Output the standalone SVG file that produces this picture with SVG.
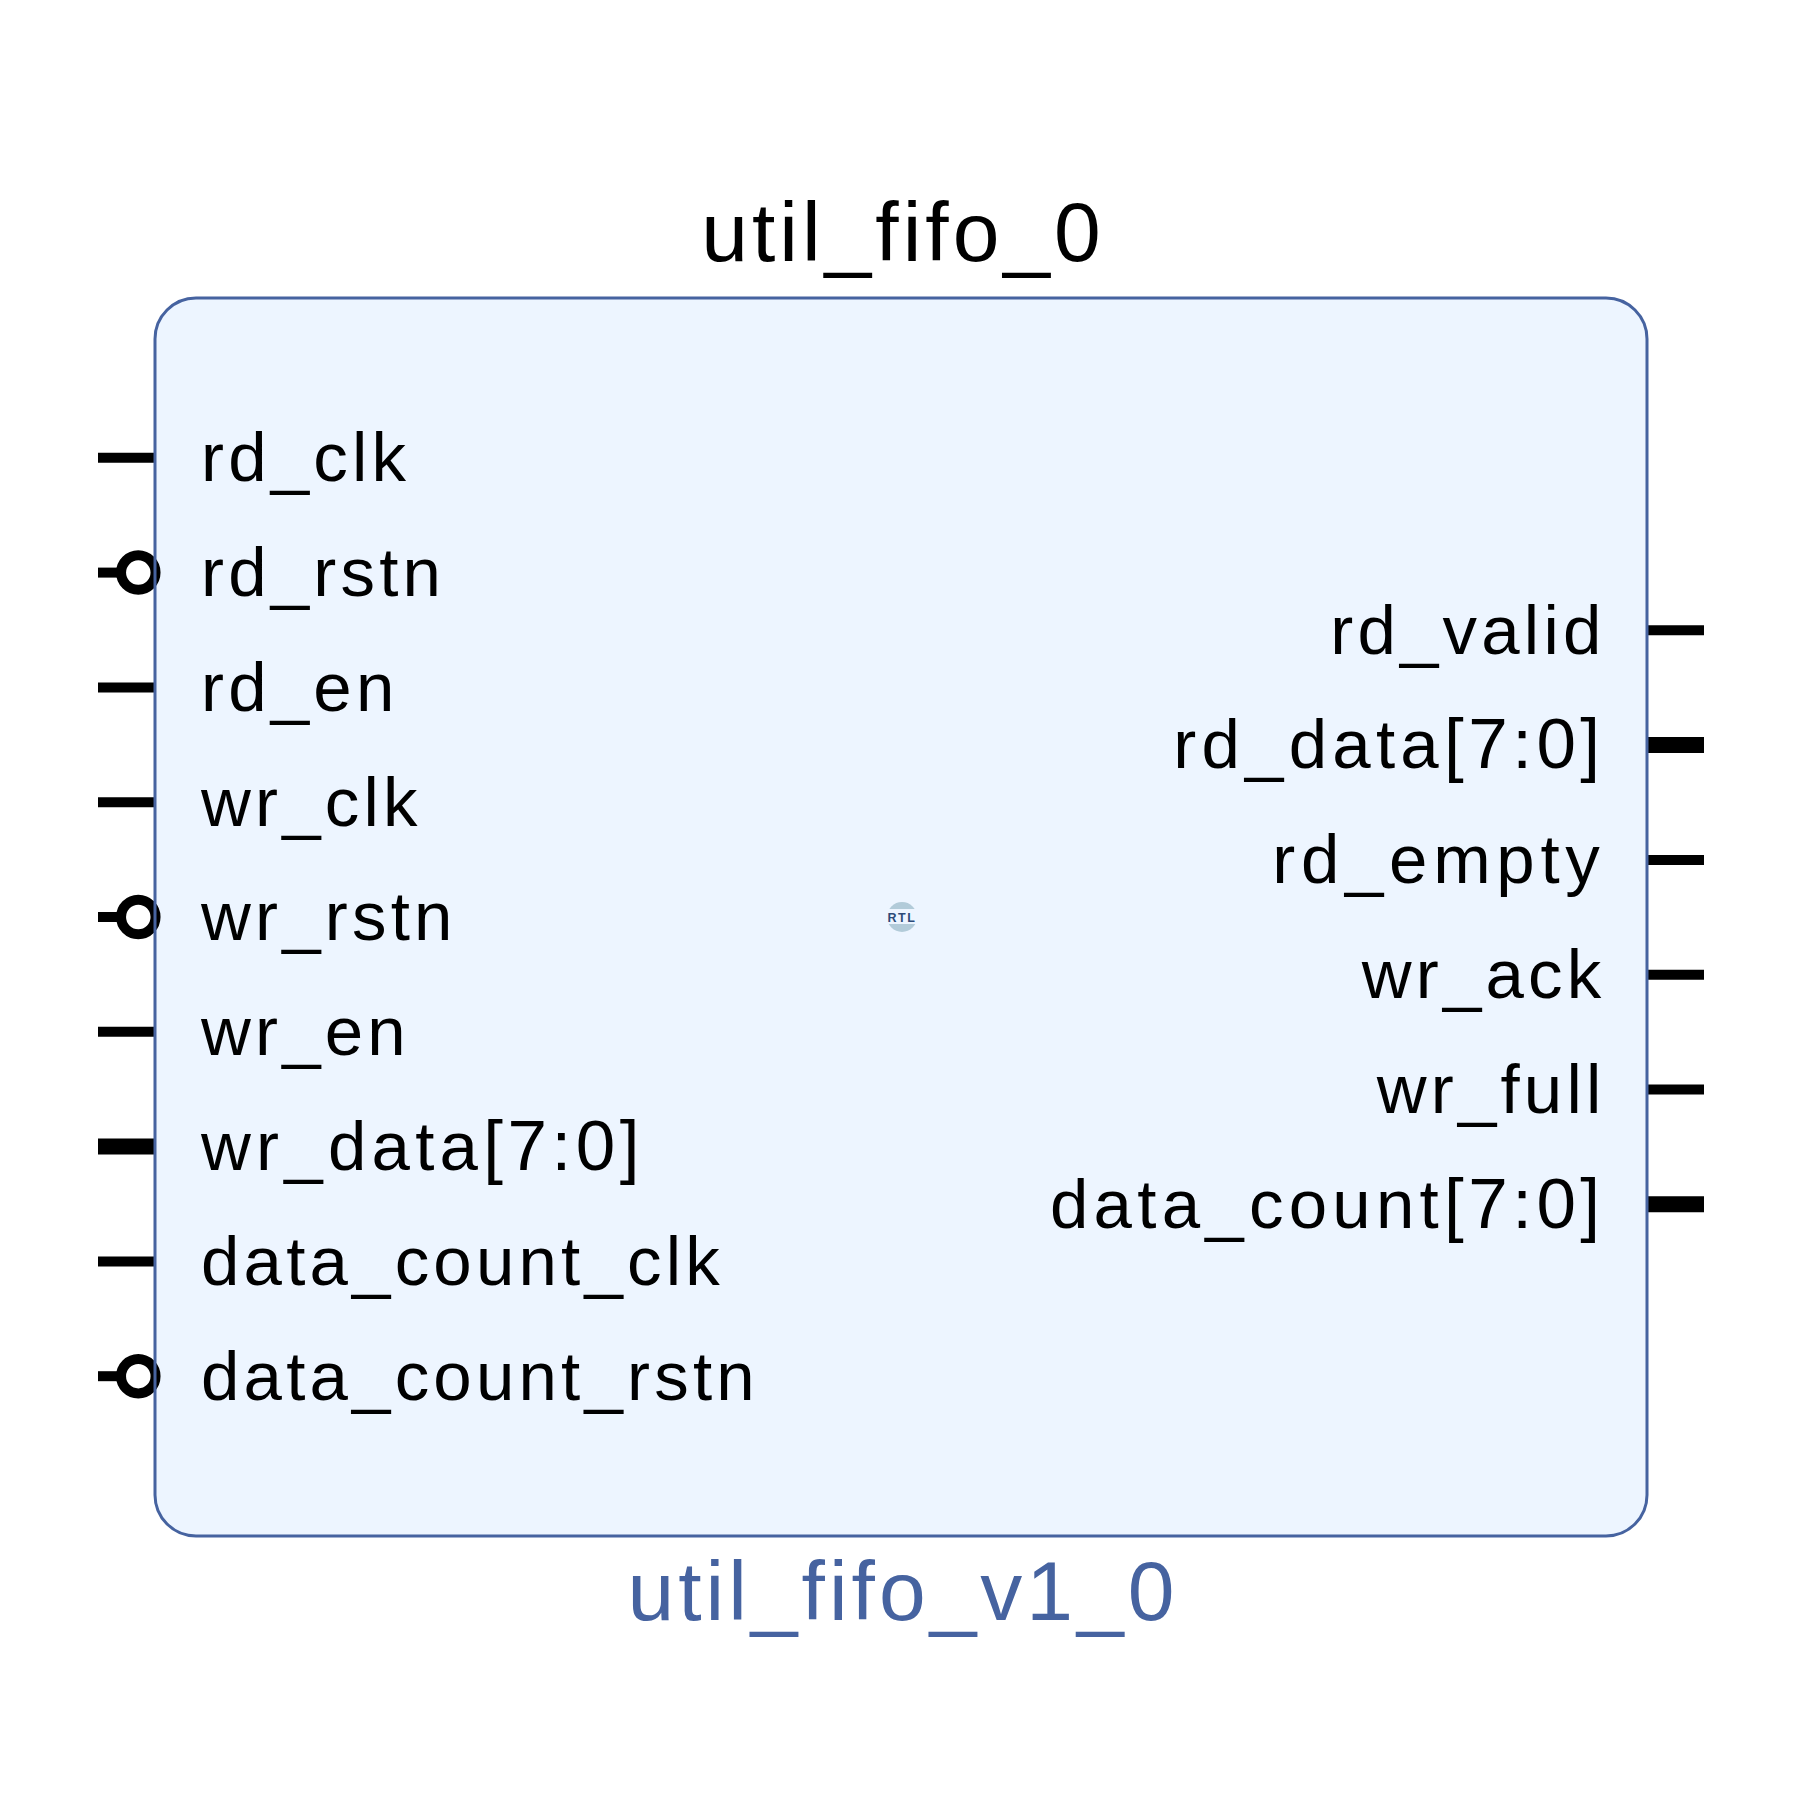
<svg xmlns="http://www.w3.org/2000/svg" width="1799" height="1801" viewBox="0 0 1799 1801">
<style>
text{font-family:"Liberation Sans",Arial,sans-serif;font-size:69px;letter-spacing:4.2px;fill:#000}
.r{text-anchor:end}
.d{letter-spacing:5.25px}
.x{font-size:71px;letter-spacing:4.5px}
.t{font-size:84px;text-anchor:middle;letter-spacing:4px}
.p{stroke:#000;stroke-width:10;fill:none}
.b{stroke:#000;stroke-width:16;fill:none}
.c{stroke:#000;stroke-width:10;fill:#fff}
</style>
<rect width="1799" height="1801" fill="#fff"/>
<g id="block">
<rect x="155" y="298" width="1492" height="1238" rx="41" ry="41" fill="#edf5ff"/>
</g>
<g id="connectors">
<path class="p" d="M98 457.800H155"/>
<path class="p" d="M98 572.600H125"/>
<path class="p" d="M98 687.400H155"/>
<path class="p" d="M98 802.200H155"/>
<path class="p" d="M98 917H125"/>
<path class="p" d="M98 1031.800H155"/>
<path class="b" d="M98 1146.600H155"/>
<path class="p" d="M98 1261.400H155"/>
<path class="p" d="M98 1376.200H125"/>
<path class="p" d="M1647 630.300H1704"/>
<path class="b" d="M1647 745.100H1704"/>
<path class="p" d="M1647 859.900H1704"/>
<path class="p" d="M1647 974.700H1704"/>
<path class="p" d="M1647 1089.500H1704"/>
<path class="b" d="M1647 1204.300H1704"/>
<circle class="c" cx="138.300" cy="572.600" r="17.250"/>
<circle class="c" cx="138.300" cy="917" r="17.250"/>
<circle class="c" cx="138.300" cy="1376.200" r="17.250"/>
</g>
<g id="block-outline">
<rect x="155" y="298" width="1492" height="1238" rx="41" ry="41" fill="none" stroke="#4663a0" stroke-width="3"/>
</g>
<g id="labels">
<text class="t" x="903" y="260.500">util_fifo_0</text>
<text class="t" x="903" y="1620" style="fill:#4663a0">util_fifo_v1_0</text>
<text x="201" y="481">rd_clk</text>
<text x="201" y="596">rd_rstn</text>
<text x="201" y="710.700">rd_en</text>
<text x="201" y="825.500">wr_clk</text>
<text x="201" y="940.300">wr_rstn</text>
<text x="201" y="1055.100">wr_en</text>
<text class="d" x="201" y="1169.900">wr_data<tspan class="x">[7:0]</tspan></text>
<text x="201" y="1284.700">data_count_clk</text>
<text x="201" y="1399.500">data_count_rstn</text>
<text class="r" x="1605.500" y="653.600">rd_valid</text>
<text class="r d" x="1604.600" y="768.400">rd_data<tspan class="x">[7:0]</tspan></text>
<text class="r" x="1605.500" y="883.200" style="letter-spacing:5.700px">rd_empty</text>
<text class="r" x="1605.500" y="998">wr_ack</text>
<text class="r" x="1605.500" y="1112.800">wr_full</text>
<text class="r d" x="1604.600" y="1227.600">data_count<tspan class="x">[7:0]</tspan></text>
</g>
<g id="rtl">
<circle cx="902" cy="917" r="15" fill="#b2cbd9"/>
<rect x="885" y="909" width="34" height="15" fill="#edf5ff"/>
<text x="902" y="921.500" style="font-size:12.500px;font-weight:bold;text-anchor:middle;letter-spacing:1.500px;fill:#2c4a78">RTL</text>
</g>
</svg>
